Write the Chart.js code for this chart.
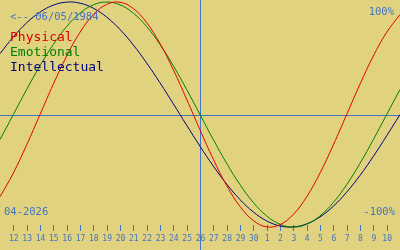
<!DOCTYPE html>
<html>
<head>
<meta charset="utf-8">
<script src="https://cdn.jsdelivr.net/npm/chart.js@4"></script>
<style>
  html, body { margin: 0; padding: 0; background: #e0d27f; }
  #wrap { width: 400px; height: 250px; }
</style>
</head>
<body>
<div id="wrap"><canvas id="bio"></canvas></div>
<script>
// days shown, 11 apr .. 11 may
const days = [11,12,13,14,15,16,17,18,19,20,21,22,23,24,25,26,27,28,29,30,1,2,3,4,5,6,7,8,9,10,11]
const physical = [-73.1,-52.0,-27.0,0,27.0,52.0,73.1,88.8,97.9,99.8,94.2,81.7,63.1,39.8,13.6,-13.6,-39.8,-63.1,-81.7,-94.2,-99.8,-97.9,-88.8,-73.1,-52.0,-27.0,0,27.0,52.0,73.1,88.8]
const emotional = [-22.3,0,22.3,43.4,62.3,78.2,90.1,97.5,100,97.5,90.1,78.2,62.3,43.4,22.3,0,-22.3,-43.4,-62.3,-78.2,-90.1,-97.5,-100,-97.5,-90.1,-78.2,-62.3,-43.4,-22.3,0,22.3]
const intellectual = [54.1,69.0,81.5,91.0,97.2,99.9,99.0,94.5,86.6,75.6,61.8,45.8,28.2,9.5,-9.5,-28.2,-45.8,-61.8,-75.6,-86.6,-94.5,-99.0,-99.9,-97.2,-91.0,-81.5,-69.0,-54.1,-37.2,-18.9,0]
const todayIndex = 15
const birthLabel = '<-- 06/05/1984'
const monthLabel = '04-2026'

const blue = '#4473c5'

const overlay = {
  id: 'overlay',
  beforeDatasetsDraw(chart){
    const ctx = chart.ctx
    const x = chart.scales.x
    const y = chart.scales.y
    ctx.save()
    ctx.strokeStyle = blue
    ctx.lineWidth = 1
    const y0 = Math.round(y.getPixelForValue(0)) + 0.5
    ctx.beginPath()
    ctx.moveTo(0, y0)
    ctx.lineTo(chart.width, y0)
    const xt = Math.round(x.getPixelForValue(todayIndex)) + 0.5
    ctx.moveTo(xt, 0)
    ctx.lineTo(xt, chart.height)
    for(let i = 1; i < days.length - 1; i++){
      if(i == todayIndex) continue
      const px = Math.round(x.getPixelForValue(i)) + 0.5
      ctx.moveTo(px, 225)
      ctx.lineTo(px, 231)
    }
    ctx.stroke()
    ctx.restore()
  },
  afterDatasetsDraw(chart){
    const ctx = chart.ctx
    const x = chart.scales.x
    ctx.save()
    ctx.textBaseline = 'middle'
    ctx.font = '8px "DejaVu Sans Mono"'
    ctx.fillStyle = blue
    ctx.textAlign = 'center'
    for(let i = 1; i < days.length - 1; i++){
      ctx.fillText(String(days[i]), x.getPixelForValue(i) + 0.5, 239)
    }
    ctx.font = '10.5px "DejaVu Sans Mono"'
    ctx.textAlign = 'left'
    ctx.fillText(birthLabel, 10, 17)
    ctx.fillText(monthLabel, 4, 212)
    ctx.textAlign = 'right'
    ctx.fillText('100%', 394, 12)
    ctx.fillText('-100%', 395, 212)
    ctx.textAlign = 'left'
    ctx.font = '13px "DejaVu Sans Mono"'
    ctx.fillStyle = '#e00000'
    ctx.fillText('Physical', 10, 38)
    ctx.fillStyle = '#008000'
    ctx.fillText('Emotional', 10, 53)
    ctx.fillStyle = '#000080'
    ctx.fillText('Intellectual', 10, 68)
    ctx.restore()
  }
}

const ctx = document.getElementById('bio').getContext('2d')
const chartBio = new Chart(ctx, {
  type: 'line',
  data: {
    labels: days,
    datasets: [
      { label: 'Physical', data: physical, borderColor: '#e00000' },
      { label: 'Emotional', data: emotional, borderColor: '#008000' },
      { label: 'Intellectual', data: intellectual, borderColor: '#000080' }
    ]
  },
  options: {
    responsive: true,
    maintainAspectRatio: false,
    animation: false,
    layout: { padding: 0 },
    elements: {
      line: { borderWidth: 1, tension: 0.4, fill: false },
      point: { radius: 0 }
    },
    plugins: { legend: { display: false }, tooltip: { enabled: false } },
    scales: {
      x: { display: false, offset: false },
      y: { display: false, min: -120.4, max: 101.8 }
    }
  },
  plugins: [overlay]
})
</script>
</body>
</html>
